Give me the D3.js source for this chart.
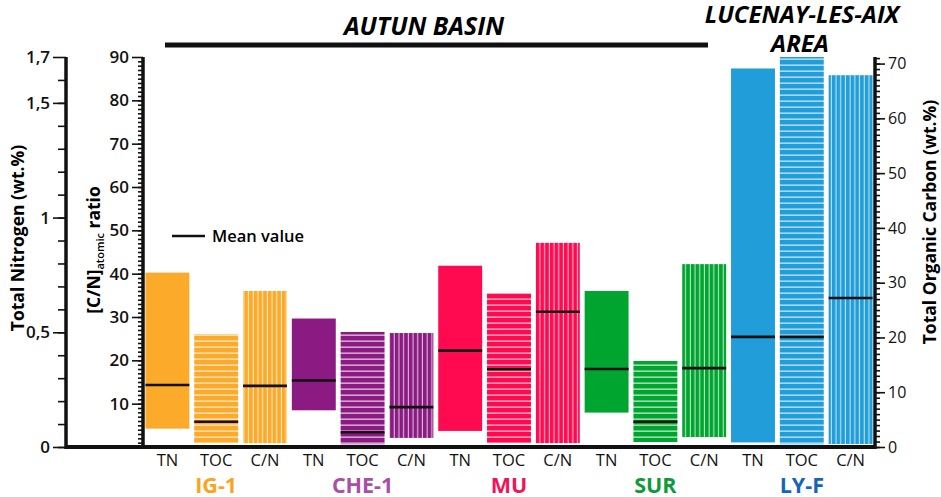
<!DOCTYPE html>
<html>
<head>
<meta charset="utf-8">
<script src="https://cdn.jsdelivr.net/npm/d3@7"></script>
<style>
  body { margin: 0; background: #fff; }
  svg { display: block; font-family: "Open Sans", "Noto Sans", sans-serif; }
</style>
</head>
<body>
<svg id="chart" width="941" height="497"></svg>
<script>
// data
const groups = ['IG-1', 'CHE-1', 'MU', 'SUR', 'LY-F'];
const params = ['TN', 'TOC', 'C/N'];
const barColors = ['#fbaa2a', '#8b1a82', '#ff0a50', '#00a530', '#219dd9'];
const labelColors = ['#f9a61f', '#a84fa6', '#f0145a', '#0c9a3a', '#1366b6'];

// Total nitrogen (wt.%)
const tnMin = [0.08, 0.16, 0.07, 0.15, 0.02];
const tnMax = [0.76, 0.56, 0.79, 0.68, 1.65];
const tnMean = [0.27, 0.29, 0.42, 0.34, 0.48];

// Total organic carbon (wt.%)
const tocMin = [0.7, 0.5, 0.7, 0.9, 0.5];
const tocMax = [20.6, 21.0, 28.1, 15.7, 71.2];
const tocMean = [4.6, 2.7, 14.2, 4.6, 20.1];

// [C/N] atomic ratio
const cnMin = [0.9, 2.1, 0.9, 2.3, 0.7];
const cnMax = [36.0, 26.3, 47.1, 42.2, 85.8];
const cnMean = [14.1, 9.2, 31.2, 18.2, 34.4];

const tnTicks = [0, 0.5, 1, 1.5, 1.7];
const cnTicks = [10, 20, 30, 40, 50, 60, 70, 80, 90];
const tocTicks = [0, 10, 20, 30, 40, 50, 60, 70];

const svg = d3.select('#chart');
const yTop = 57, yBottom = 447;
const xTN = 66, xCN = 143, xTOC = 875;

const keys = [];
groups.forEach(g => params.forEach(p => keys.push(g + '|' + p)));

const x = d3.scaleBand().domain(keys).range([xCN, xTOC]).paddingInner(0.1).paddingOuter(0.05);
const yTN = d3.scaleLinear().domain([0, 1.7]).range([yBottom, yTop]);
const yCN = d3.scaleLinear().domain([0, 90]).range([yBottom, yTop]);
const yTOC = d3.scaleLinear().domain([0, 71.2]).range([yBottom, yTop]);

// stripe patterns
const defs = svg.append('defs');
barColors.forEach((c, i) => {
  const h = defs.append('pattern').attr('id', 'h' + i)
    .attr('patternUnits', 'userSpaceOnUse').attr('width', 10).attr('height', 6);
  h.append('rect').attr('width', 10).attr('height', 6).attr('fill', c);
  h.append('rect').attr('y', 4.5).attr('width', 10).attr('height', 1.3).attr('fill', '#fff').attr('opacity', 0.75);

  const v = defs.append('pattern').attr('id', 'v' + i)
    .attr('patternUnits', 'userSpaceOnUse').attr('width', 4.7).attr('height', 10);
  v.append('rect').attr('width', 4.7).attr('height', 10).attr('fill', c);
  v.append('rect').attr('x', 3.6).attr('width', 1.1).attr('height', 10).attr('fill', '#fff').attr('opacity', 0.7);
});

// build bar rows
const rows = [];
groups.forEach((g, i) => {
  rows.push({ key: g + '|TN', y: yTN, lo: tnMin[i], hi: tnMax[i], mean: tnMean[i], fill: barColors[i] });
  rows.push({ key: g + '|TOC', y: yTOC, lo: tocMin[i], hi: tocMax[i], mean: tocMean[i], fill: 'url(#h' + i + ')' });
  rows.push({ key: g + '|C/N', y: yCN, lo: cnMin[i], hi: cnMax[i], mean: cnMean[i], fill: 'url(#v' + i + ')' });
});

svg.append('g').selectAll('rect')
  .data(rows).enter().append('rect')
  .attr('x', d => x(d.key))
  .attr('width', x.bandwidth())
  .attr('y', d => d.y(d.hi))
  .attr('height', d => d.y(d.lo) - d.y(d.hi))
  .attr('fill', d => d.fill);

svg.append('g').selectAll('line')
  .data(rows).enter().append('line')
  .attr('x1', d => x(d.key))
  .attr('x2', d => x(d.key) + x.bandwidth())
  .attr('y1', d => d.y(d.mean))
  .attr('y2', d => d.y(d.mean))
  .attr('stroke', '#111').attr('stroke-width', 2.6);

// axes
function styleAxis(g, weight, size) {
  g.select('.domain').remove();
  g.selectAll('line').attr('stroke', '#111').attr('stroke-width', 1.6);
  g.selectAll('text').attr('font-size', size).attr('font-weight', weight)
    .attr('fill', '#111').attr('font-family', '"Open Sans", sans-serif');
}

// TN axis
svg.append('g').attr('transform', `translate(${xTN},0)`)
  .call(d3.axisLeft(yTN).tickValues(d3.range(0, 17).map(v => v / 10)).tickSize(8).tickFormat(''))
  .call(g => styleAxis(g, 600, 17));
svg.append('g').attr('transform', `translate(${xTN},0)`)
  .call(d3.axisLeft(yTN).tickValues(tnTicks).tickSize(13).tickPadding(3)
    .tickFormat(d => String(d).replace('.', ',')))
  .call(g => styleAxis(g, 600, 17));

// C/N axis
svg.append('g').attr('transform', `translate(${xCN},0)`)
  .call(d3.axisLeft(yCN).tickValues(d3.range(1, 90)).tickSize(5).tickFormat(''))
  .call(g => styleAxis(g, 600, 17));
svg.append('g').attr('transform', `translate(${xCN},0)`)
  .call(d3.axisLeft(yCN).tickValues(cnTicks).tickSize(11).tickPadding(3))
  .call(g => styleAxis(g, 600, 17));

// TOC axis
svg.append('g').attr('transform', `translate(${xTOC},0)`)
  .call(d3.axisRight(yTOC).tickValues(d3.range(0, 72)).tickSize(5).tickFormat(''))
  .call(g => styleAxis(g, 500, 16));
svg.append('g').attr('transform', `translate(${xTOC},0)`)
  .call(d3.axisRight(yTOC).tickValues(tocTicks).tickSize(10).tickPadding(3))
  .call(g => styleAxis(g, 500, 16));

// axis lines and baseline
[xTN, xCN, xTOC].forEach(px => {
  svg.append('line').attr('x1', px).attr('x2', px).attr('y1', yTop).attr('y2', yBottom + 2)
    .attr('stroke', '#111').attr('stroke-width', 3.5);
});
svg.append('line').attr('x1', xTN).attr('x2', xTOC).attr('y1', yBottom).attr('y2', yBottom)
  .attr('stroke', '#111').attr('stroke-width', 4);

// axis titles
svg.append('text')
  .attr('transform', 'translate(24,238) rotate(-90)')
  .attr('text-anchor', 'middle').attr('font-size', 17.5).attr('font-weight', 700)
  .text('Total Nitrogen (wt.%)');

const cnTitle = svg.append('text')
  .attr('transform', 'translate(100,250) rotate(-90)')
  .attr('text-anchor', 'middle').attr('font-size', 17.5).attr('font-weight', 700);
cnTitle.append('tspan').text('[C/N]');
cnTitle.append('tspan').attr('font-size', 11).attr('font-weight', 600).attr('dy', 4).text('atomic');
cnTitle.append('tspan').attr('dy', -4).text(' ratio');

svg.append('text')
  .attr('transform', 'translate(936,222) rotate(-90)')
  .attr('text-anchor', 'middle').attr('font-size', 17.5).attr('font-weight', 700)
  .text('Total Organic Carbon (wt.%)');

// category labels
svg.append('g').selectAll('text')
  .data(keys).enter().append('text')
  .attr('x', d => x(d) + x.bandwidth() / 2)
  .attr('y', 466)
  .attr('text-anchor', 'middle').attr('font-size', 16.5).attr('fill', '#111')
  .text(d => d.split('|')[1]);

svg.append('g').selectAll('text')
  .data(groups).enter().append('text')
  .attr('x', d => x(d + '|TOC') + x.bandwidth() / 2)
  .attr('y', 493)
  .attr('text-anchor', 'middle').attr('font-size', 21.5).attr('font-weight', 700)
  .attr('fill', (d, i) => labelColors[i])
  .text(d => d);

// area headings
svg.append('line').attr('x1', 165).attr('x2', 708).attr('y1', 45).attr('y2', 45)
  .attr('stroke', '#111').attr('stroke-width', 5);
svg.append('text').attr('x', 424).attr('y', 35).attr('text-anchor', 'middle')
  .attr('font-size', 25).attr('font-weight', 700).attr('font-style', 'italic')
  .text('AUTUN BASIN');
svg.append('text').attr('x', 802).attr('y', 23).attr('text-anchor', 'middle')
  .attr('font-size', 24).attr('font-weight', 700).attr('font-style', 'italic')
  .text('LUCENAY-LES-AIX');
svg.append('text').attr('x', 800).attr('y', 52).attr('text-anchor', 'middle')
  .attr('font-size', 24).attr('font-weight', 700).attr('font-style', 'italic')
  .text('AREA');

// legend
svg.append('line').attr('x1', 172).attr('x2', 205).attr('y1', 236).attr('y2', 236)
  .attr('stroke', '#111').attr('stroke-width', 2.6);
svg.append('text').attr('x', 212).attr('y', 242)
  .attr('font-size', 16.5).attr('font-weight', 600)
  .text('Mean value');
</script>
</body>
</html>
